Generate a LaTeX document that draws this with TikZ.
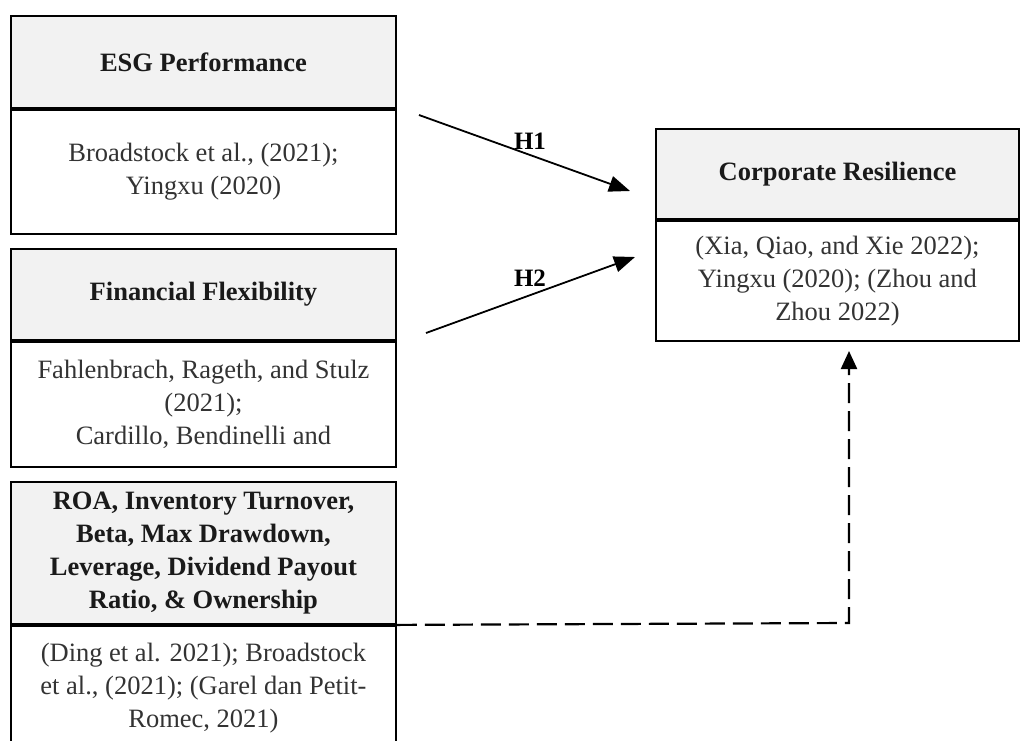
\documentclass[tikz,border=0pt]{standalone}
\usepackage{fontspec}
\setmainfont{Liberation Serif}
\usetikzlibrary{arrows.meta,positioning}
\definecolor{headfill}{HTML}{F2F2F2}
\definecolor{txt}{HTML}{333333}
\definecolor{btxt}{HTML}{1A1A1A}
\tikzset{
  box/.style={draw=black, line width=1.9pt, align=center, inner sep=0pt,
    font=\fontsize{26.5}{33}\selectfont, minimum width=385pt},
  headbox/.style={box, fill=headfill, text=btxt, font=\fontsize{26.5}{33}\selectfont\bfseries},
  bodybox/.style={box, fill=white, text=txt},
  hyparrow/.style={line width=1.8pt, -{Triangle[length=21pt,width=16pt]}},
  hlabel/.style={font=\fontsize{25}{28}\selectfont\bfseries, text=black, inner sep=0pt},
  dasharrow/.style={line width=2.2pt, dash pattern=on 20pt off 8pt, -{Triangle[length=18pt,width=16pt]}}
}
\begin{document}
\begin{tikzpicture}[x=1pt,y=-1pt]
\useasboundingbox (0,0) rectangle (1027,740);
\clip (0,0) rectangle (1027,740);
% ESG box
\node[headbox, minimum height=92pt, anchor=north west] (esgH) at (10,15) {ESG Performance};
\node[bodybox, minimum height=124pt, anchor=north] (esgB) at (esgH.south) {Broadstock et al., (2021);\\Yingxu (2020)};
% Financial flexibility box
\node[headbox, minimum height=91pt, anchor=north west] (ffH) at (10,248) {Financial Flexibility};
\node[bodybox, minimum height=125pt, anchor=north] (ffB) at (ffH.south) {Fahlenbrach, Rageth, and Stulz\\(2021);\\Cardillo, Bendinelli and};
% Controls box
\node[headbox, minimum height=142pt, anchor=north west] (ctH) at (10,481) {ROA, Inventory Turnover,\\Beta, Max Drawdown,\\Leverage, Dividend Payout\\Ratio, \& Ownership};
\node[bodybox, minimum height=124pt, anchor=north] (ctB) at (ctH.south) {(Ding et al. 2021); Broadstock\\et al., (2021); (Garel dan Petit-\\Romec, 2021)};
% Corporate resilience box
\node[headbox, minimum width=363pt, minimum height=90pt, anchor=north west] (crH) at (655,128) {Corporate Resilience};
\node[bodybox, minimum width=363pt, minimum height=120pt, anchor=north] (crB) at (crH.south) {(Xia, Qiao, and Xie 2022);\\Yingxu (2020); (Zhou and\\Zhou 2022)};
% hypothesis arrows
\coordinate (h1s) at (419,115);
\coordinate (h1e) at (630,191);
\coordinate (h2s) at (426,333);
\coordinate (h2e) at (635,257);
\draw[hyparrow] (h1s) -- (h1e);
\draw[hyparrow] (h2s) -- (h2e);
\node[hlabel] (h1l) at (530,141) {H1};
\node[hlabel] (h2l) at (530,278) {H2};
% dashed control arrow
\coordinate (dcorner) at (849,623);
\coordinate (dtip) at (849,351);
\draw[dasharrow] (ctH.south east) -- (dcorner) -- (dtip);
\end{tikzpicture}
\end{document}
